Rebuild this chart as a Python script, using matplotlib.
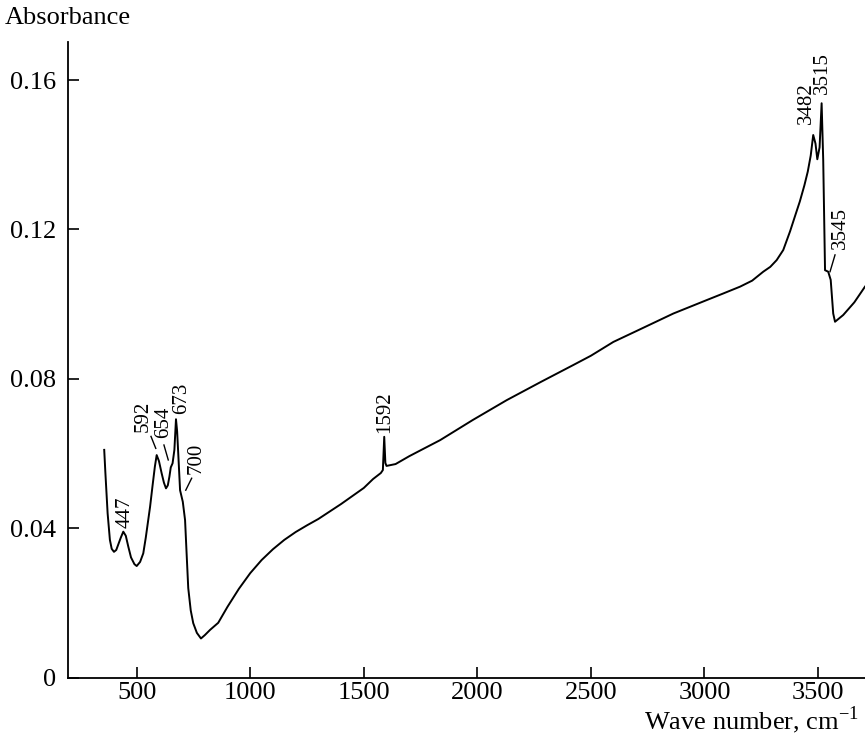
import matplotlib
matplotlib.use("Agg")
import matplotlib.pyplot as plt

# IR spectrum
wavenumber = [357, 362, 372, 382, 390, 400, 410, 430, 441, 452, 463, 475, 490, 500, 515,
              529, 540, 559, 570, 580, 588, 598, 610, 620, 629, 637, 644, 650, 658, 666,
              673, 678, 683, 691, 703, 713, 720, 727, 738, 749, 765, 783, 800, 823, 859,
              900, 950, 1000, 1050, 1100, 1150, 1200, 1250, 1300, 1400, 1500, 1541, 1575,
              1584, 1590, 1595, 1600, 1640, 1700, 1760, 1836, 1980, 2129, 2280, 2422,
              2500, 2599, 2700, 2863, 3010, 3080, 3157, 3210, 3259, 3290, 3318, 3347, 3377,
              3400, 3420, 3440, 3455, 3468, 3479, 3489, 3497, 3507, 3516, 3523, 3531, 3545,
              3556, 3567, 3575, 3611, 3660, 3707]
absorbance = [0.0610, 0.0550, 0.0440, 0.0369, 0.0345, 0.0337, 0.0342, 0.0375, 0.0391,
              0.0380, 0.0351, 0.0322, 0.0304, 0.0299, 0.0310, 0.0333, 0.0375, 0.0458,
              0.0515, 0.0565, 0.0596, 0.0580, 0.0547, 0.0522, 0.0507, 0.0515, 0.0538,
              0.0563, 0.0574, 0.0610, 0.0692, 0.0660, 0.0600, 0.0502, 0.0471, 0.0422,
              0.0330, 0.0240, 0.0180, 0.0146, 0.0120, 0.0105, 0.0114, 0.0128, 0.0147,
              0.0190, 0.0238, 0.0280, 0.0315, 0.0344, 0.0369, 0.0390, 0.0408, 0.0425,
              0.0465, 0.0508, 0.0532, 0.0548, 0.0556, 0.0645, 0.0575, 0.0567, 0.0572,
              0.0593, 0.0612, 0.0636, 0.0690, 0.0743, 0.0792, 0.0837, 0.0862, 0.0899,
              0.0928, 0.0975, 0.1011, 0.1028, 0.1047, 0.1063, 0.1087, 0.1100, 0.1118,
              0.1145, 0.1195, 0.1238, 0.1275, 0.1318, 0.1355, 0.1398, 0.1453, 0.1430,
              0.1388, 0.1420, 0.1538, 0.1386, 0.1091, 0.1087, 0.1065, 0.0975, 0.0953,
              0.0971, 0.1005, 0.1047]

# peak labels: text, text position (x, y), optional leader line ((x0, y0), (x1, y1))
peak_labels = ["447", "592", "654", "673", "700", "1592", "3482", "3515", "3545"]
label_pos = [(448, 0.0444), (529, 0.0699), (620, 0.0685), (698, 0.0748), (761, 0.0587),
             (1593, 0.0712), (3447, 0.1538), (3521, 0.1620), (3597, 0.1203)]
leaders = [None, ((563, 0.0646), (584, 0.0614)), ((620, 0.0623), (639, 0.0583)), None,
           ((742, 0.0534), (716, 0.0502)), None, None, None,
           ((3575, 0.1132), (3553, 0.1087))]

x_ticks = [500, 1000, 1500, 2000, 2500, 3000, 3500]
y_ticks = [0, 0.04, 0.08, 0.12, 0.16]
y_tick_labels = ["0", "0.04", "0.08", "0.12", "0.16"]

plt.rcParams["font.family"] = ["Liberation Serif", "DejaVu Serif"]
plt.rcParams["mathtext.fontset"] = "custom"
plt.rcParams["mathtext.rm"] = "Liberation Serif"

fig = plt.figure(figsize=(8.65, 7.38), dpi=100)
ax = fig.add_axes([0.079, 0.0817, 0.921, 0.8614])

ax.plot(wavenumber, absorbance, color="black", linewidth=1.4)

for text, (tx, ty), lead in zip(peak_labels, label_pos, leaders):
    ax.text(tx, ty, text, rotation=90, ha="center", va="center", fontsize=15)
    if lead is not None:
        ax.plot([lead[0][0], lead[1][0]], [lead[0][1], lead[1][1]], color="black", linewidth=1.0)

ax.set_xlim(199, 3707)
ax.set_ylim(0, 0.1702)
ax.set_xticks(x_ticks)
ax.set_yticks(y_ticks)
ax.set_yticklabels(y_tick_labels)
ax.tick_params(direction="in", length=8, width=1.2, labelsize=19)
ax.tick_params(axis="x", pad=3)
ax.tick_params(axis="y", pad=9)

for side in ["top", "right"]:
    ax.spines[side].set_visible(False)
for side in ["left", "bottom"]:
    ax.spines[side].set_linewidth(1.3)

fig.text(0.006, 0.976, "Absorbance", fontsize=19, ha="left", va="center")
fig.text(0.993, 0.024, "Wave number, cm$^{-1}$", fontsize=19, ha="right", va="center")

plt.savefig("out.png", dpi=100)
plt.close()
